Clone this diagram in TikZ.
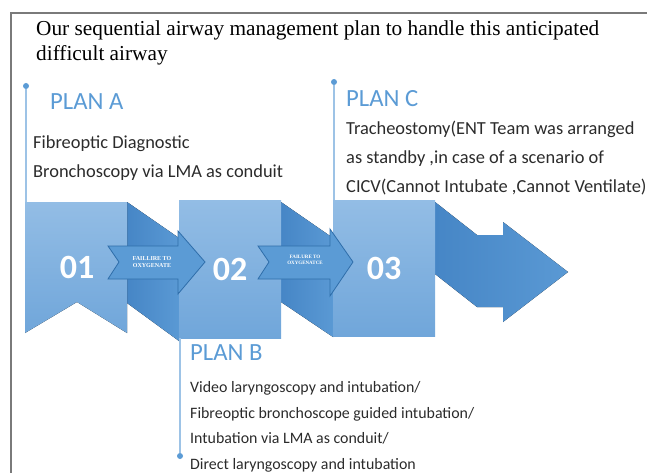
\documentclass[tikz,border=0pt]{standalone}
\usepackage{fontspec}
\setmainfont{Liberation Serif}
\newfontfamily\calibri{Carlito}
\usetikzlibrary{positioning}

\definecolor{planblue}{HTML}{5B9BD5}
\definecolor{lineblue}{HTML}{9DC3E6}
\definecolor{boxtop}{HTML}{93BDE5}
\definecolor{boxbot}{HTML}{70A6DA}
\definecolor{folddark}{HTML}{4686C6}
\definecolor{foldlight}{HTML}{5A99D4}
\definecolor{arrowfill}{HTML}{5B9BD5}
\definecolor{arrowedge}{HTML}{2F6EAA}
\definecolor{textgray}{HTML}{2B2B2B}
\definecolor{framegray}{HTML}{7A7A7A}

\tikzset{
  plan/.style={anchor=base west, text=planblue, inner sep=0pt,
    font=\calibri\fontsize{24.7}{28}\selectfont},
  body/.style={anchor=base west, text=textgray, inner sep=0pt, align=left,
    font=\calibri\fontsize{18.4}{29}\selectfont},
  num/.style={text=white, inner sep=0pt,
    font=\calibri\bfseries\fontsize{34}{34}\selectfont},
  tl/.style={lineblue, line width=1.5pt},
  dot/.style={circle, fill=planblue, inner sep=0pt, minimum size=6pt},
  box/.style={top color=boxtop, bottom color=boxbot},
  fold/.style={left color=folddark, right color=foldlight},
  fail/.style={fill=arrowfill, draw=arrowedge, line width=0.8pt},
  failtext/.style={text=white, align=center, inner sep=0pt,
    font=\bfseries\fontsize{6}{7}\selectfont}
}

\begin{document}
\begin{tikzpicture}[x=1pt,y=-1pt]
  \useasboundingbox (0,0) rectangle (647,473);
  \draw[framegray, line width=1.5pt] (11,474) -- (11,13) -- (648,13);

  \node[anchor=base west, inner sep=0pt, align=left,
    font=\fontsize{21.3}{25}\selectfont] (title) at (36,61)
    {Our sequential airway management plan to handle this anticipated\\difficult airway};

  % folds and the end arrow
  \fill[fold] (127,202) -- (179,238) -- (179,341) -- (127,303) -- cycle;
  \fill[fold] (281,202) -- (333,238) -- (333,337) -- (281,302) -- cycle;
  \fill[fold] (435,202) -- (477,235) -- (503,235) -- (503,222) -- (568,272)
    -- (503,322) -- (503,307) -- (477,307) -- (435,274) -- cycle;

  % the three steps
  \fill[box] (25,202) -- (127,202) -- (127,333) -- (77,302) -- (25,333) -- cycle;
  \node[num] (n01) at (77,267) {01};
  \node[box, num, minimum width=102pt, minimum height=138pt] (b02) at (230,269) {02};
  \node[box, num, minimum width=102pt, minimum height=136pt] (b03) at (384,268) {03};

  \draw[fail] (108,246) -- (178,246) -- (178,231) -- (205,262) -- (178,294)
    -- (178,279) -- (108,279) -- (119,262) -- cycle;
  \node[failtext] (f1) at (152,262) {FAILLIRE TO\\OXYGENATE};
  \draw[fail] (258,246) -- (330,246) -- (330,229) -- (353,262) -- (330,296)
    -- (330,279) -- (258,279) -- (269,262) -- cycle;
  \node[failtext, font=\bfseries\fontsize{5}{6}\selectfont] (f2) at (305,260) {FAILURE TO\\OXYGENATCE};

  % timelines
  \node[dot] (dA) at (26,86) {};
  \coordinate (eA) at (26,202);
  \draw[tl] (dA) -- (eA);
  \node[dot] (dC) at (334,82) {};
  \coordinate (eC) at (334,200);
  \draw[tl] (dC) -- (eC);
  \node[dot] (dB) at (180,456) {};
  \coordinate (eB) at (180,338);
  \draw[tl] (eB) -- (dB);

  % plans (base is the last line)
  \node[plan] (pA) at (50,110) {PLAN A};
  \node[body] (tA) at (33,178) {Fibreoptic Diagnostic\\Bronchoscopy via LMA as conduit};
  \node[plan] (pC) at (346,107) {PLAN C};
  \node[body] (tC) at (346,193) {Tracheostomy(ENT Team was arranged\\as standby ,in case of a scenario of\\CICV(Cannot Intubate ,Cannot Ventilate)};
  \node[plan] (pB) at (190,360) {PLAN B};
  \node[body, font=\calibri\fontsize{15.9}{25.5}\selectfont] (tB) at (190,469)
    {Video laryngoscopy and intubation/\\Fibreoptic bronchoscope guided intubation/\\Intubation via LMA as conduit/\\Direct laryngoscopy and intubation};
\end{tikzpicture}
\end{document}
